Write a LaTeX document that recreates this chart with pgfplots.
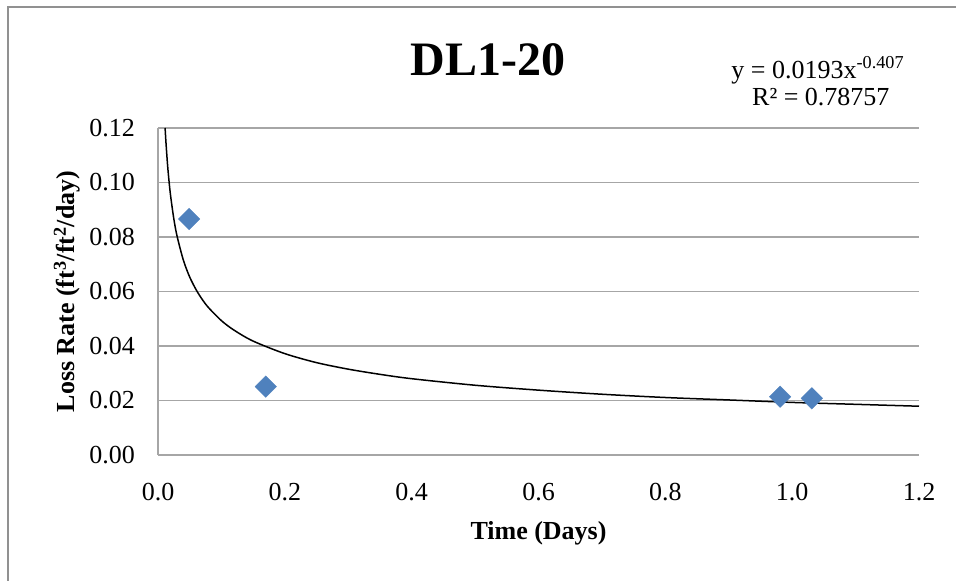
\documentclass[border=0pt]{standalone}
\usepackage{fontspec}
\setmainfont{Liberation Serif}
\usepackage{pgfplots}
\pgfplotsset{compat=1.18}
\definecolor{gridgray}{RGB}{166,166,166}
\definecolor{bordergray}{RGB}{145,145,145}
\definecolor{ptblue}{RGB}{79,129,189}
\begin{document}
\begin{tikzpicture}[x=1pt,y=1pt]
\useasboundingbox (0,0) rectangle (956,581);
\draw[bordergray, line width=1.8pt] (8,-20) -- (8,574) -- (980,574);
\begin{axis}[
  at={(158pt,126pt)}, anchor=south west,
  scale only axis, width=761pt, height=327pt,
  xmin=0, xmax=1.2, ymin=0, ymax=0.12,
  clip=false,
  axis x line=bottom, axis y line=left,
  axis line style={-, gridgray, line width=1.5pt},
  major tick length=0pt,
  ymajorgrids, grid style={gridgray, line width=1.5pt},
  xtick={0,0.2,0.4,0.6,0.8,1.0,1.2},
  ytick={0,0.02,0.04,0.06,0.08,0.10,0.12},
  /pgf/number format/assume math mode=true,
  x tick label style={/pgf/number format/.cd, fixed, fixed zerofill, precision=1, /tikz/.cd},
  y tick label style={/pgf/number format/.cd, fixed, fixed zerofill, precision=2, /tikz/.cd},
  ticklabel style={font=\fontsize{26}{30}\selectfont, inner sep=0pt},
  xticklabel style={anchor=north, yshift=-28pt},
  yticklabel style={anchor=east, xshift=-23pt},
  xlabel={Time (Days)},
  ylabel={Loss Rate (ft\textsuperscript{3}/ft\textsuperscript{2}/day)},
  label style={font=\bfseries\fontsize{26}{30}\selectfont, inner sep=0pt},
  xlabel style={at={(axis description cs:0.5,-0.2569)}, anchor=base},
  ylabel style={at={(axis description cs:-0.1091,0.5)}, anchor=base, rotate=0},
  title={DL1-20},
  title style={at={(axis description cs:0.4336,1.1407)}, anchor=base, inner sep=0pt, font=\bfseries\fontsize{48}{54}\selectfont},
]
\addplot[only marks, mark=square*, mark size=7.6pt, mark options={rotate=45, fill=ptblue, draw=ptblue}]
  coordinates {(0.049,0.0866) (0.170,0.0251) (0.981,0.0214) (1.031,0.0208)};
\addplot[black, line width=1.5pt, smooth, no marks] coordinates {
(0.0112,0.1200) (0.0125,0.1149) (0.015,0.1067) (0.0175,0.1002) (0.02,0.0949)
(0.025,0.0866) (0.03,0.0804) (0.04,0.0715) (0.05,0.0653) (0.06,0.0607)
(0.07,0.0570) (0.08,0.0540) (0.10,0.0493) (0.12,0.0458) (0.15,0.0418)
(0.20,0.0372) (0.25,0.0339) (0.30,0.0315) (0.35,0.0296) (0.40,0.0280)
(0.50,0.0256) (0.60,0.0238) (0.70,0.0223) (0.80,0.0211) (0.90,0.0202)
(1.00,0.0193) (1.10,0.0186) (1.20,0.0179)};
\node[anchor=base, inner sep=0pt, font=\fontsize{26}{30}\selectfont] at (axis description cs:0.867,1.1529) {y = 0.0193x\textsuperscript{-0.407}};
\node[anchor=base, inner sep=0pt, font=\fontsize{26}{30}\selectfont] at (axis description cs:0.871,1.0673) {R² = 0.78757};
\end{axis}
\end{tikzpicture}
\end{document}
